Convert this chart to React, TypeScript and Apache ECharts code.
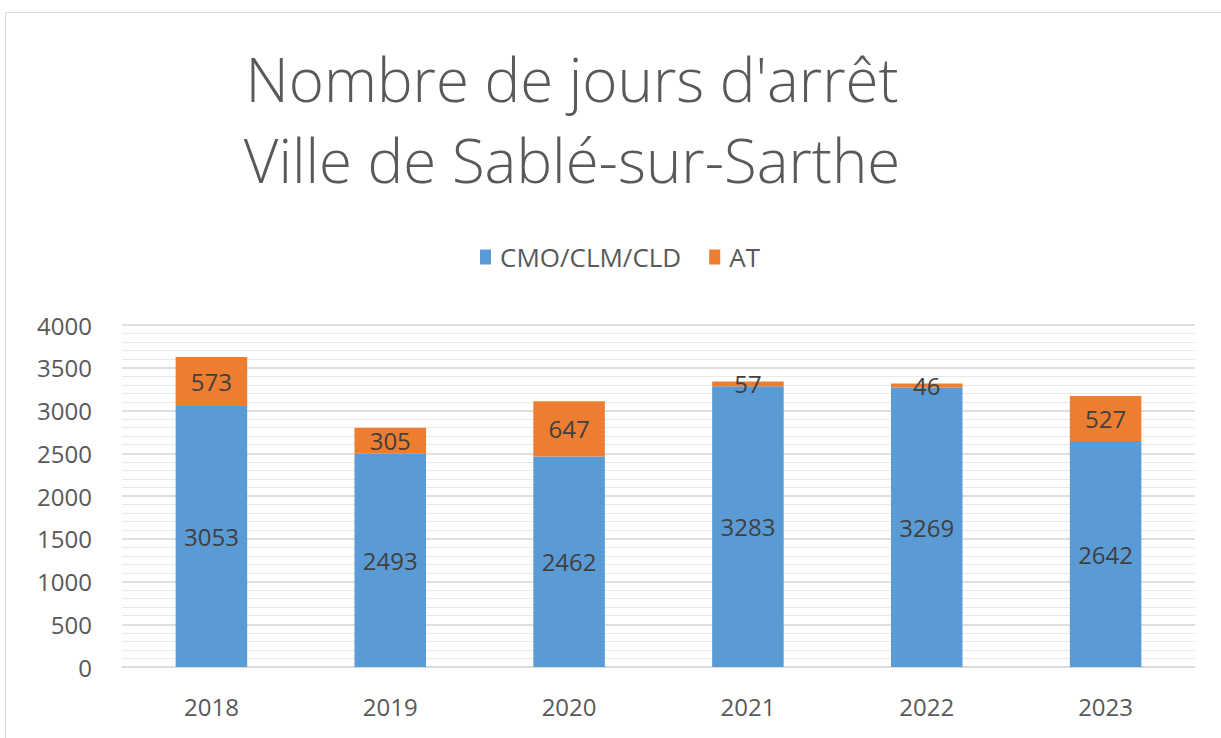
import React, { useEffect, useRef } from "react";
import * as echarts from "echarts";

const categories = ["2018", "2019", "2020", "2021", "2022", "2023"];
const cmoValues = [3053, 2493, 2462, 3283, 3269, 2642];
const atValues = [573, 305, 647, 57, 46, 527];
const titleLines = ["Nombre de jours d'arrêt", "Ville de Sablé-sur-Sarthe"];
const seriesNames = ["CMO/CLM/CLD", "AT"];

const FONT = "'Open Sans', 'Noto Sans', sans-serif";

export default function App() {
  const ref = useRef<HTMLDivElement>(null);
  useEffect(() => {
    if (!ref.current) return;
    const chart = echarts.init(ref.current, null, { renderer: "svg" });
    const barLabel = {
      show: true,
      position: "inside",
      fontSize: 24,
      color: "#404040",
      fontFamily: FONT,
    };
    chart.setOption({
      animation: false,
      backgroundColor: "#ffffff",
      textStyle: { fontFamily: FONT },
      graphic: [
        {
          type: "rect",
          shape: { x: 5.5, y: 12.5, width: 1240, height: 760 },
          style: { fill: "none", stroke: "#d9d9d9", lineWidth: 1 },
          silent: true,
        },
      ],
      title: {
        text: titleLines.join("\n"),
        left: 567,
        textAlign: "center",
        top: 33,
        textStyle: {
          fontFamily: FONT,
          fontWeight: 300,
          fontSize: 60,
          lineHeight: 81,
          color: "#595959",
        },
      },
      legend: {
        data: seriesNames,
        left: 475,
        top: 239,
        itemWidth: 11,
        itemHeight: 15,
        itemGap: 28,
        icon: "rect",
        textStyle: {
          fontSize: 26,
          color: "#595959",
          fontFamily: FONT,
          padding: [0, 0, 0, 4],
        },
      },
      grid: { left: 122, right: 26, top: 325, bottom: 71, containLabel: false },
      xAxis: {
        type: "category",
        data: categories,
        axisLine: { lineStyle: { color: "#d9d9d9", width: 1 } },
        axisTick: { show: false },
        axisLabel: { fontSize: 24, color: "#595959", margin: 27 },
      },
      yAxis: {
        type: "value",
        min: 0,
        max: 4000,
        interval: 500,
        axisLine: { show: false },
        axisTick: { show: false },
        axisLabel: {
          fontSize: 24,
          color: "#595959",
          margin: 30,
          formatter: (v: number) => String(v),
        },
        splitLine: { lineStyle: { color: "#d4d4d4", width: 1.5 } },
        minorTick: { show: false, splitNumber: 5 },
        minorSplitLine: { show: true, lineStyle: { color: "#e8e8e8", width: 1 } },
      },
      series: [
        {
          name: seriesNames[0],
          type: "bar",
          stack: "total",
          data: cmoValues,
          barWidth: "40%",
          itemStyle: { color: "#5B9BD5" },
          label: barLabel,
        },
        {
          name: seriesNames[1],
          type: "bar",
          stack: "total",
          data: atValues,
          barWidth: "40%",
          itemStyle: { color: "#ED7D31" },
          label: barLabel,
        },
      ],
    });
    return () => chart.dispose();
  }, []);
  return (
    <div
      ref={ref}
      style={{ position: "fixed", left: 0, top: 0, width: 1221, height: 738 }}
    />
  );
}
